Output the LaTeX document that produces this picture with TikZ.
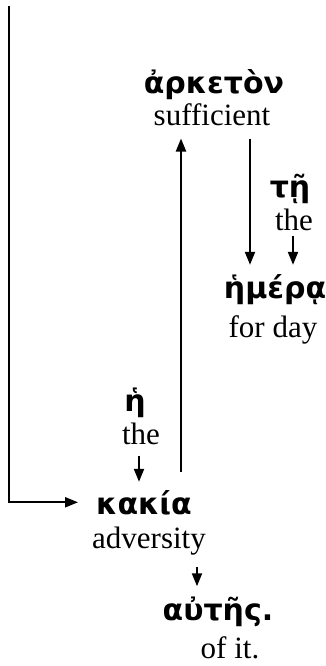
\documentclass[tikz,border=0pt]{standalone}
\usepackage{fontspec}
\setmainfont{Liberation Serif}
\newfontfamily\greekfont[Script=Greek]{DejaVu Sans}
\usetikzlibrary{arrows.meta}
\begin{document}
\begin{tikzpicture}[x=1pt, y=-1pt,
  greek/.style={font=\greekfont\bfseries\fontsize{30}{32}\selectfont, inner sep=0pt, anchor=base},
  gloss/.style={font=\fontsize{31}{33}\selectfont, inner sep=0pt, anchor=base},
  arr/.style={-{Triangle[length=13pt, width=10pt]}, line width=2.1pt}]
  \useasboundingbox (0,0) rectangle (325,666);

  % Words and glosses
  \node[greek] (arketon) at (214,94) {ἀρκετὸν};
  \node[gloss] (sufficient) at (212,125) {sufficient};
  \node[greek] (te) at (290,197) {τῇ};
  \node[gloss] (theA) at (294,230) {the};
  \node[greek] (hemera) at (275,298) {ἡμέρᾳ};
  \node[gloss] (forday) at (273,337) {for day};
  \node[greek] (he) at (135,411) {ἡ};
  \node[gloss] (theB) at (141,444) {the};
  \node[greek] (kakia) at (144,514) {κακία};
  \node[gloss] (adversity) at (149,548) {adversity};
  \node[greek] (autes) at (218,620) {αὐτῆς.};
  \node[gloss] (ofit) at (230,658) {of it.};

  % Connectors
  \coordinate (top) at (9,6);
  \draw[arr] (top) |- ([xshift=-18pt]kakia.west);
  \draw[arr] ([shift={(37,-18)}]kakia.north) -- ([shift={(-31,13)}]sufficient.south);
  \draw[arr] ([shift={(38,13)}]sufficient.south) -- ([shift={(-25,-9)}]hemera.north);
  \draw[arr] ([shift={(-1,5)}]theA.south) -- ([shift={(18,-9)}]hemera.north);
  \draw[arr] ([shift={(-2,11)}]theB.south) -- ([shift={(-5,-8)}]kakia.north);
  \draw[arr] ([shift={(48,12)}]adversity.south) -- ([shift={(-21,-10)}]autes.north);
\end{tikzpicture}
\end{document}
